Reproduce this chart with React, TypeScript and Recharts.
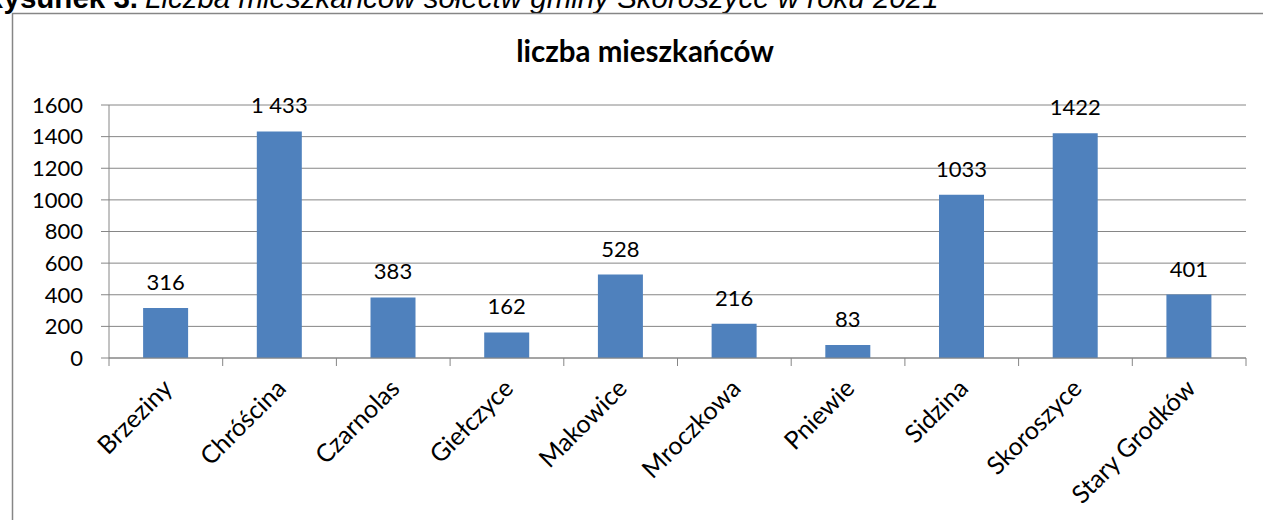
import React from "react";
import {
  BarChart,
  Bar,
  XAxis,
  YAxis,
  CartesianGrid,
  LabelList,
} from "recharts";

// sołectwa gminy Skoroszyce
const villages = [
  "Brzeziny",
  "Chróścina",
  "Czarnolas",
  "Giełczyce",
  "Makowice",
  "Mroczkowa",
  "Pniewie",
  "Sidzina",
  "Skoroszyce",
  "Stary Grodków",
];
const residents = [316, 1433, 383, 162, 528, 216, 83, 1033, 1422, 401];
const residentLabels = ["316", "1 433", "383", "162", "528", "216", "83", "1033", "1422", "401"];
const yTicks = [0, 200, 400, 600, 800, 1000, 1200, 1400, 1600];

const W = 1263;
const H = 520;
const margin = { top: 105, right: 17, left: 20, bottom: 12 };
const yAxisWidth = 89;
const band = (W - margin.left - margin.right - yAxisWidth) / villages.length;

const GRAY = "#868686";
const FONT = "Lato, 'Noto Sans', sans-serif";
const ARIAL = "'Liberation Sans', Arial, sans-serif";

const data = villages.map((name, i) => ({
  name,
  value: residents[i],
  label: residentLabels[i],
}));

const CategoryTick = (props: any) => {
  const { x, y, payload, index } = props;
  const axisY = y - 8;
  return (
    <g>
      <line x1={x - band / 2} x2={x - band / 2} y1={axisY} y2={axisY + 8} stroke={GRAY} />
      {index === villages.length - 1 && (
        <line x1={x + band / 2} x2={x + band / 2} y1={axisY} y2={axisY + 8} stroke={GRAY} />
      )}
      <text
        transform={`translate(${x + 8},${axisY + 32}) rotate(-45)`}
        textAnchor="end"
        fontFamily={FONT}
        fontSize={25}
        fill="#000"
      >
        {payload.value}
      </text>
    </g>
  );
};

export default function App() {
  return (
    <div
      style={{
        position: "fixed",
        left: 0,
        top: 0,
        width: W,
        height: H,
        overflow: "hidden",
        background: "#fff",
      }}
    >
      <svg width={W} height={H} style={{ position: "absolute", left: 0, top: 0 }}>
        <text x={138} y={8} textAnchor="end" fontFamily={ARIAL} fontSize={29.5} fontWeight="bold" fill="#000">
          Rysunek 3.
        </text>
        <text x={145} y={8} fontFamily={ARIAL} fontSize={29.5} fontStyle="italic" fill="#000">
          Liczba mieszkańców sołectw gminy Skoroszyce w roku 2021
        </text>
        <rect x={12.5} y={13.5} width={1500} height={800} fill="none" stroke={GRAY} strokeWidth={1.5} />
        <text
          x={645}
          y={62}
          textAnchor="middle"
          fontFamily={FONT}
          fontWeight="bold"
          fontSize={29.5}
          fill="#000"
        >
          liczba mieszkańców
        </text>
      </svg>
      <div style={{ position: "absolute", left: 0, top: 0 }}>
        <BarChart width={W} height={H} data={data} margin={margin} barCategoryGap="30%">
          <CartesianGrid vertical={false} stroke={GRAY} />
          <XAxis
            dataKey="name"
            interval={0}
            height={150}
            tickSize={8}
            tickMargin={0}
            tickLine={false}
            axisLine={{ stroke: GRAY }}
            tick={<CategoryTick />}
          />
          <YAxis
            domain={[0, 1600]}
            ticks={yTicks}
            width={yAxisWidth}
            tickSize={8}
            tickMargin={18}
            axisLine={{ stroke: GRAY }}
            tickLine={{ stroke: GRAY }}
            tick={{ fontFamily: FONT, fontSize: 22, fill: "#000" }}
          />
          <Bar dataKey="value" fill="#4F81BD" isAnimationActive={false}>
            <LabelList
              dataKey="label"
              position="top"
              offset={18}
              fontFamily={FONT}
              fontSize={22}
              fill="#000"
            />
          </Bar>
        </BarChart>
      </div>
    </div>
  );
}
